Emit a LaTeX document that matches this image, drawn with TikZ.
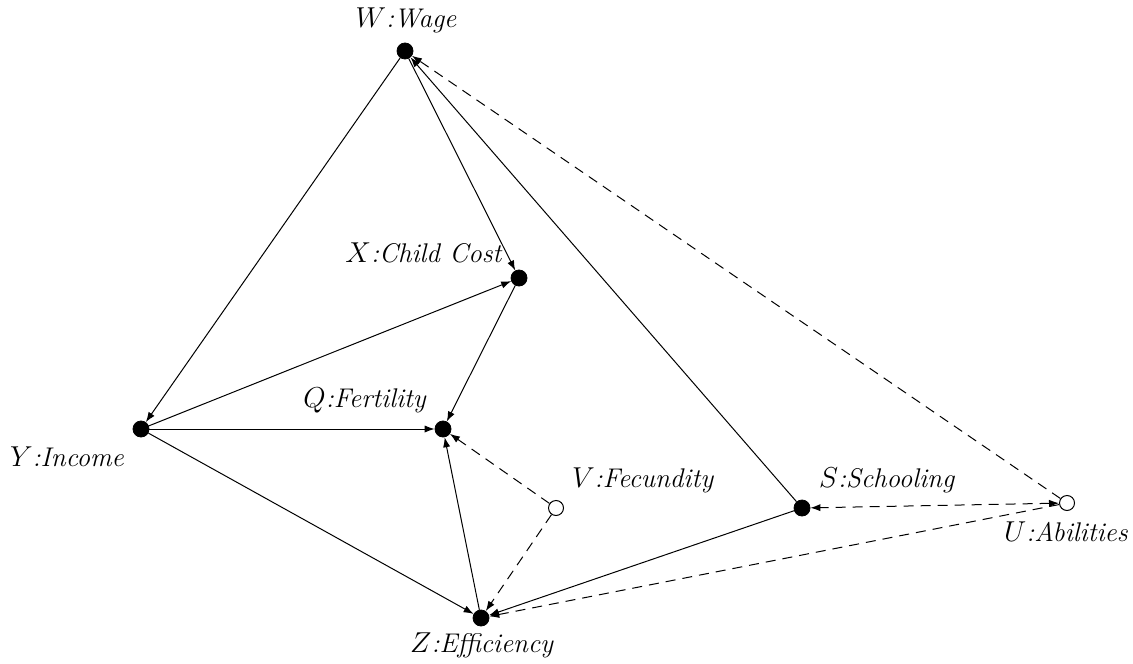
\documentclass[tikz,border=0pt]{standalone}
\usetikzlibrary{arrows.meta}
\begin{document}
\begin{tikzpicture}[x=0.5pt,y=-0.5pt,
 obs/.style={circle,fill=black,draw=black,inner sep=0pt,minimum size=8pt},
 lat/.style={circle,fill=white,draw=black,line width=0.5pt,inner sep=0pt,minimum size=7.5pt},
 lbl/.style={font=\fontsize{13.5}{16}\selectfont,inner sep=0pt},
 arr/.style={-{Latex[length=5pt,width=3.6pt]},line width=0.5pt},
 darr/.style={arr,dash pattern=on 5pt off 3.5pt},
]
\useasboundingbox (0,0) rectangle (1133,663);
\node[obs] (W) at (405,51) {};
\node[obs] (X) at (519,278) {};
\node[obs] (Q) at (443,429) {};
\node[obs] (Y) at (141,429) {};
\node[lat] (V) at (556,508) {};
\node[obs] (Z) at (481,618) {};
\node[obs] (S) at (802,508) {};
\node[lat] (U) at (1067,503) {};

\node[lbl] (Wl) at (406,20) {$W$\textit{:Wage}};
\node[lbl] (Xl) at (424,253) {$X$\textit{:Child Cost}};
\node[lbl] (Ql) at (365,400) {$Q$\textit{:Fertility}};
\node[lbl] (Yl) at (67,457) {$Y$\textit{:Income}};
\node[lbl] (Vl) at (643,480) {$V$\textit{:Fecundity}};
\node[lbl] (Sl) at (887,480) {$S$\textit{:Schooling}};
\node[lbl] (Ul) at (1066,532) {$U$\textit{:Abilities}};
\node[lbl] (Zl) at (482,645) {$Z$\textit{:Efficiency}};

\draw[arr] (W) -- (Y);
\draw[arr] (W) -- (X);
\draw[arr] (S) -- (W);
\draw[darr] (U) -- (W);
\draw[arr] (Y) -- (X);
\draw[arr] (Y) -- (Q);
\draw[arr] (Y) -- (Z);
\draw[arr] (X) -- (Q);
\draw[arr] (Z) -- (Q);
\draw[darr] (V) -- (Q);
\draw[darr] (V) -- (Z);
\draw[arr] (S) -- (Z);
\draw[darr,{Latex[length=5pt,width=3.6pt]}-{Latex[length=5pt,width=3.6pt]}] (U) -- (S);
\draw[darr] (U) -- (Z);
\end{tikzpicture}
\end{document}
